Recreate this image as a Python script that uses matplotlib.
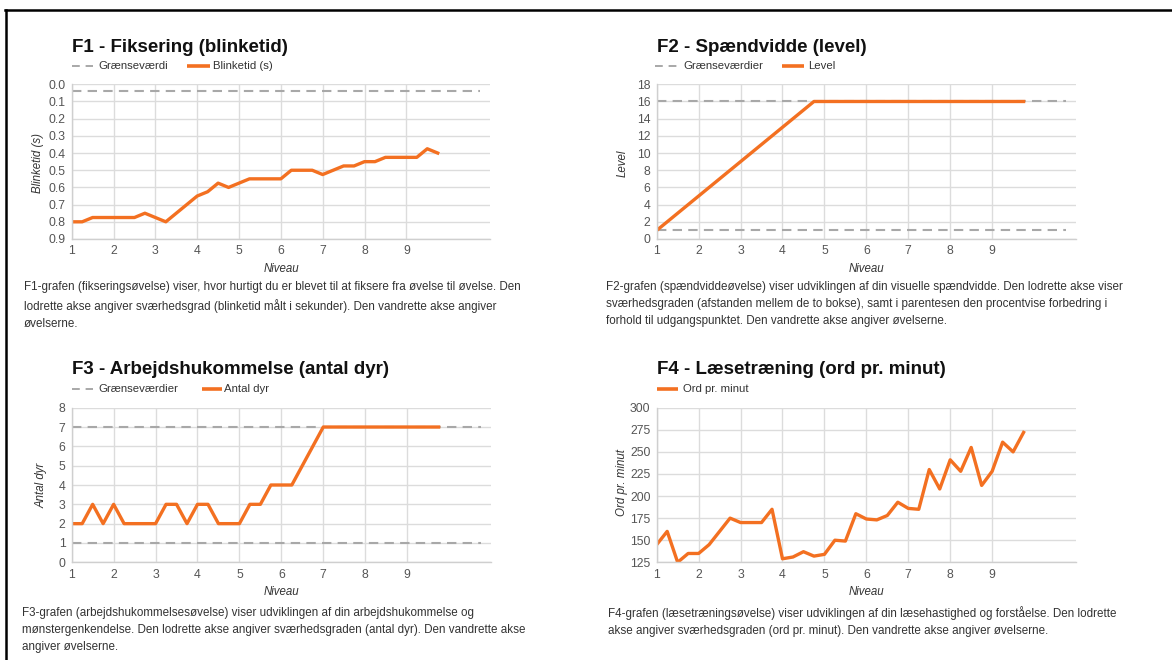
import matplotlib
matplotlib.use("Agg")
import matplotlib.pyplot as plt
from matplotlib.lines import Line2D

plt.rcParams['font.family'] = ['Liberation Sans', 'DejaVu Sans']

W, H = 1172, 660

# ---------------- data ----------------
niveau = [1.0, 1.25, 1.5, 1.75, 2.0, 2.25, 2.5, 2.75, 3.0, 3.25, 3.5, 3.75,
          4.0, 4.25, 4.5, 4.75, 5.0, 5.25, 5.5, 5.75, 6.0, 6.25, 6.5, 6.75,
          7.0, 7.25, 7.5, 7.75, 8.0, 8.25, 8.5, 8.75, 9.0, 9.25, 9.5, 9.75]

blinketid = [0.80, 0.80, 0.775, 0.775, 0.775, 0.775, 0.775, 0.75, 0.775, 0.80, 0.75, 0.70,
             0.65, 0.625, 0.575, 0.60, 0.575, 0.55, 0.55, 0.55, 0.55, 0.50, 0.50, 0.50,
             0.525, 0.50, 0.475, 0.475, 0.45, 0.45, 0.425, 0.425, 0.425, 0.425, 0.375, 0.40]
f1_graense = [0.04]

level = [1, 2, 3, 4, 5, 6, 7, 8, 9, 10, 11, 12,
         13, 14, 15, 16, 16, 16, 16, 16, 16, 16, 16, 16,
         16, 16, 16, 16, 16, 16, 16, 16, 16, 16, 16, 16]
f2_graense = [1, 16]

antal_dyr = [2, 2, 3, 2, 3, 2, 2, 2, 2, 3, 3, 2,
             3, 3, 2, 2, 2, 3, 3, 4, 4, 4, 5, 6,
             7, 7, 7, 7, 7, 7, 7, 7, 7, 7, 7, 7]
f3_graense = [1, 7]

ord_pr_minut = [145, 160, 125, 135, 135, 145, 160, 175, 170, 170, 170, 185,
                129, 131, 137, 132, 134, 150, 149, 180, 174, 173, 178, 193,
                186, 185, 230, 208, 241, 228, 255, 212, 228, 261, 250, 272]

graense_x = [1, 10.75]
x_ticks = [1, 2, 3, 4, 5, 6, 7, 8, 9]

f1_yticks = [0.0, 0.1, 0.2, 0.3, 0.4, 0.5, 0.6, 0.7, 0.8, 0.9]
f2_yticks = [0, 2, 4, 6, 8, 10, 12, 14, 16, 18]
f3_yticks = [0, 1, 2, 3, 4, 5, 6, 7, 8]
f4_yticks = [125, 150, 175, 200, 225, 250, 275, 300]

titles = ["F1 - Fiksering (blinketid)", "F2 - Spændvidde (level)",
          "F3 - Arbejdshukommelse (antal dyr)", "F4 - Læsetræning (ord pr. minut)"]
ylabels = ["Blinketid (s)", "Level", "Antal dyr", "Ord pr. minut"]
xlabel = "Niveau"

desc1 = ("F1-grafen (fikseringsøvelse) viser, hvor hurtigt du er blevet til at fiksere fra øvelse til øvelse. Den\n"
         "lodrette akse angiver sværhedsgrad (blinketid målt i sekunder). Den vandrette akse angiver\n"
         "øvelserne.")
desc2 = ("F2-grafen (spændviddeøvelse) viser udviklingen af din visuelle spændvidde. Den lodrette akse viser\n"
         "sværhedsgraden (afstanden mellem de to bokse), samt i parentesen den procentvise forbedring i\n"
         "forhold til udgangspunktet. Den vandrette akse angiver øvelserne.")
desc3 = ("F3-grafen (arbejdshukommelsesøvelse) viser udviklingen af din arbejdshukommelse og\n"
         "mønstergenkendelse. Den lodrette akse angiver sværhedsgraden (antal dyr). Den vandrette akse\n"
         "angiver øvelserne.")
desc4 = ("F4-grafen (læsetræningsøvelse) viser udviklingen af din læsehastighed og forståelse. Den lodrette\n"
         "akse angiver sværhedsgraden (ord pr. minut). Den vandrette akse angiver øvelserne.")

# ---------------- style ----------------
ORANGE = '#f37021'
DASH = '#a8a8a8'
GRID = '#dcdcdc'
TICK = '#555555'
TEXT = '#333333'

fig = plt.figure(figsize=(W / 100, H / 100), dpi=100)
fig.patch.set_facecolor('white')


def fx(x):
    return x / W


def fy(y):
    return 1 - y / H


def make_axes(left, top, right, bottom):
    ax = fig.add_axes([fx(left), fy(bottom), (right - left) / W, (bottom - top) / H])
    for s in ['top', 'right']:
        ax.spines[s].set_visible(False)
    for s in ['left', 'bottom']:
        ax.spines[s].set_color('#cfcfcf')
        ax.spines[s].set_linewidth(1.0)
    ax.grid(True, color=GRID, linewidth=1.0)
    ax.set_axisbelow(True)
    ax.tick_params(length=0, labelsize=8.8, labelcolor=TICK, pad=4.5)
    ax.set_xlim(1, 11)
    ax.set_xticks(x_ticks)
    return ax


def header(x, y_title, y_leg, title, items):
    fig.text(fx(x), fy(y_title), title, fontsize=13.5, fontweight='bold',
             color='#111111', ha='left', va='baseline')
    for (x0, x1, xt, kind, label) in items:
        if kind == 'dash':
            ln = Line2D([fx(x0), fx(x1)], [fy(y_leg), fy(y_leg)], transform=fig.transFigure,
                        color=DASH, linewidth=1.4, dashes=(4, 3))
        else:
            ln = Line2D([fx(x0), fx(x1)], [fy(y_leg), fy(y_leg)], transform=fig.transFigure,
                        color=ORANGE, linewidth=2.6, solid_capstyle='butt')
        fig.add_artist(ln)
        fig.text(fx(xt), fy(y_leg), label, fontsize=8.2, color=TEXT, ha='left', va='center')


def labels(ylab, ylx, yly, xlx, xly):
    fig.text(fx(ylx), fy(yly), ylab, rotation=90, fontsize=8.3, style='italic',
             color=TEXT, ha='center', va='center')
    fig.text(fx(xlx), fy(xly), xlabel, fontsize=8.3, style='italic',
             color=TEXT, ha='center', va='center')


def fmt_ticks(ax, ticks, fmt):
    ax.set_yticks(ticks)
    ax.set_yticklabels([fmt.format(t) for t in ticks])


def graense(ax, values):
    for g in values:
        ax.plot(graense_x, [g, g], color=DASH, linewidth=1.5, dashes=(4.5, 3))


# ---------------- F1 ----------------
ax1 = make_axes(71.7, 84.3, 490, 239)
ax1.set_ylim(0.9, 0.0)
fmt_ticks(ax1, f1_yticks, "{:.1f}")
graense(ax1, f1_graense)
ax1.plot(niveau, blinketid, color=ORANGE, linewidth=2.4)
header(71.7, 51.5, 66, titles[0],
       [(71.7, 93, 98, 'dash', "Grænseværdi"), (187, 210, 213, 'solid', "Blinketid (s)")])
labels(ylabels[0], 38, 163, 281, 269)

# ---------------- F2 ----------------
ax2 = make_axes(656.7, 84.3, 1076, 239)
ax2.set_ylim(0, 18)
fmt_ticks(ax2, f2_yticks, "{:d}")
graense(ax2, f2_graense)
ax2.plot(niveau, level, color=ORANGE, linewidth=2.4)
header(656.7, 51.5, 66, titles[1],
       [(655, 677, 683, 'dash', "Grænseværdier"), (782, 804, 808, 'solid', "Level")])
labels(ylabels[1], 623, 163, 866, 269)

# ---------------- F3 ----------------
ax3 = make_axes(71.7, 407.7, 491, 562.3)
ax3.set_ylim(0, 8)
fmt_ticks(ax3, f3_yticks, "{:d}")
graense(ax3, f3_graense)
ax3.plot(niveau, antal_dyr, color=ORANGE, linewidth=2.4)
header(71.7, 374, 389, titles[2],
       [(71.7, 93, 98, 'dash', "Grænseværdier"), (202, 222, 224, 'solid', "Antal dyr")])
labels(ylabels[2], 42, 485, 281, 592)

# ---------------- F4 ----------------
ax4 = make_axes(656.7, 407.7, 1076, 562.3)
ax4.set_ylim(125, 300)
fmt_ticks(ax4, f4_yticks, "{:d}")
ax4.plot(niveau, ord_pr_minut, color=ORANGE, linewidth=2.4)
header(656.7, 374, 389, titles[3],
       [(657, 678, 683, 'solid', "Ord pr. minut")])
labels(ylabels[3], 622, 482, 866, 592)

# ---------------- descriptions ----------------
for (x, y, txt) in [(24, 281, desc1), (606, 281, desc2), (22, 607, desc3), (608, 606, desc4)]:
    fig.text(fx(x), fy(y), txt, fontsize=8.4, color=TEXT, ha='left', va='top',
             linespacing=1.55)

# ---------------- frame ----------------
fig.add_artist(Line2D([fx(6), fx(6)], [fy(9.5), 0], transform=fig.transFigure,
                      color='black', linewidth=1.8))
fig.add_artist(Line2D([fx(5), 1], [fy(10), fy(10)], transform=fig.transFigure,
                      color='black', linewidth=1.8))

fig.savefig("out.png", dpi=100)
